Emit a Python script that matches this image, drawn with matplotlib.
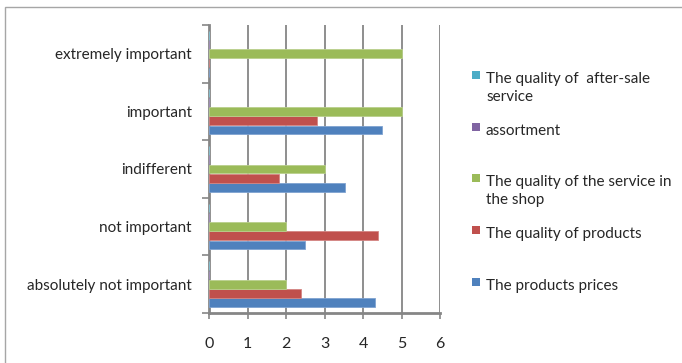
import matplotlib
matplotlib.use('Agg')
import matplotlib.pyplot as plt
from matplotlib.patches import Rectangle
from matplotlib.ticker import FixedLocator
import numpy as np

plt.rcParams['font.family'] = ['Lato', 'DejaVu Sans']

categories = ['absolutely not important', 'not important', 'indifferent',
              'important', 'extremely important']
series_names = ['The products prices', 'The quality of products',
                'The quality of the service in\nthe shop', 'assortment',
                'The quality of  after-sale\nservice']
prices = [4.3, 2.48, 3.52, 4.5, 0]
products = [2.38, 4.4, 1.8, 2.8, 0]
shop_service = [2.0, 2.0, 3.0, 5.0, 5.0]
assortment = [0, 0, 0, 0, 0]
after_sale = [0, 0, 0, 0, 0]
x_ticks = [0, 1, 2, 3, 4, 5, 6]

colors = ['#4F81BD', '#C0504D', '#9BBB59', '#8064A2', '#4BACC6']
edges = ['#7FA3D1', '#D48583', '#B9D08C', '#A690C0', '#86C7D9']
grid_col = '#868686'
text_col = '#262626'

fig = plt.figure(figsize=(6.82, 3.63), dpi=100)
W, H = 682, 363

# outer chart frame
fig.patches.append(Rectangle((5 / W, -0.1), 1.0, (H - 7) / H + 0.1,
                             transform=fig.transFigure, fill=False,
                             edgecolor='#A6A6A6', linewidth=1.0))

ax = fig.add_axes([209.3 / W, 50 / H, 230.7 / W, 288 / H])
y = np.arange(len(categories))
h = 0.16
data = [prices, products, shop_service, assortment, after_sale]
for i, vals in enumerate(data):
    ax.barh(y + (i - 2) * h, vals, height=h * 0.94, color=colors[i],
            edgecolor=edges[i], linewidth=0.6, zorder=3)

ax.set_xlim(0, 6)
ax.set_ylim(-0.5, len(categories) - 0.5)
ax.set_xticks(x_ticks)
ax.set_xticklabels([str(t) for t in x_ticks])
ax.set_yticks(y)
ax.set_yticklabels(categories)
ax.yaxis.set_minor_locator(FixedLocator(np.arange(-0.5, len(categories), 1)))
ax.tick_params(axis='y', which='major', length=0, pad=12.5,
               labelsize=11, labelcolor=text_col)
ax.tick_params(axis='y', which='minor', length=5, width=1.2, color=grid_col,
               direction='out')
ax.tick_params(axis='x', length=4, width=1.2, color=grid_col, pad=13,
               labelsize=11.5, labelcolor=text_col)
ax.grid(axis='x', color=grid_col, linewidth=1.3, zorder=0)
for s in ['top', 'right']:
    ax.spines[s].set_visible(False)
for s in ['left', 'bottom']:
    ax.spines[s].set_color(grid_col)
    ax.spines[s].set_linewidth(2.0)

# legend, top entry first
legend_y = [75, 127, 178, 230, 282]
for k, idx in enumerate([4, 3, 2, 1, 0]):
    yc = legend_y[k]
    fig.patches.append(Rectangle((472 / W, (H - yc - 4) / H), 8 / W, 8 / H,
                                 transform=fig.transFigure,
                                 facecolor=colors[idx], edgecolor='none'))
    fig.text(486 / W, (H - yc + 3) / H, series_names[idx], ha='left',
             va='top', fontsize=11, color=text_col, linespacing=1.33)

fig.savefig('out.png', dpi=100)
